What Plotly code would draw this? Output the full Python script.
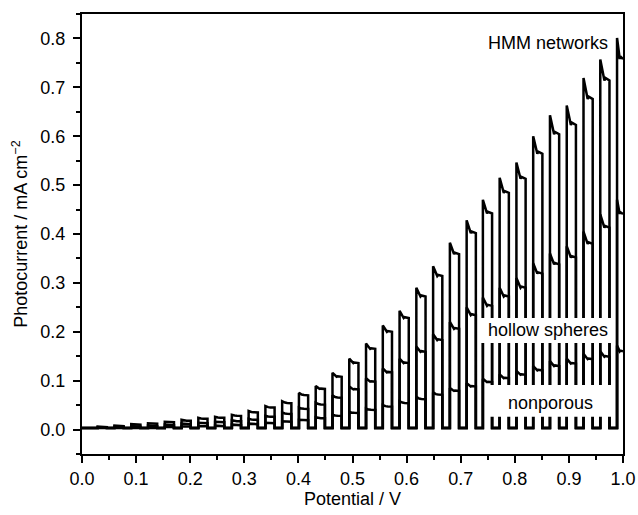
import plotly.graph_objects as go

# ---------------- data ----------------
# light-on / light-off potentials of each chopped pulse (V)
pulse_on = [0.029, 0.060, 0.091, 0.122, 0.153, 0.184, 0.215, 0.246, 0.277, 0.308,
            0.339, 0.370, 0.401, 0.432, 0.463, 0.494, 0.525, 0.556, 0.587, 0.618,
            0.649, 0.680, 0.711, 0.741, 0.772, 0.803, 0.834, 0.865, 0.896, 0.927,
            0.958, 0.989]
pulse_off = [0.046, 0.077, 0.108, 0.139, 0.170, 0.201, 0.232, 0.263, 0.294, 0.325,
             0.356, 0.387, 0.418, 0.449, 0.480, 0.511, 0.542, 0.573, 0.604, 0.635,
             0.666, 0.697, 0.728, 0.758, 0.789, 0.820, 0.851, 0.882, 0.913, 0.944,
             0.975, 1.000]

dark_current = 0.003  # mA cm-2, current with light off

# spike (peak) and steady-state (plateau) photocurrent of each pulse, mA cm-2
hmm_peak = [0.006, 0.008, 0.011, 0.013, 0.016, 0.020, 0.024, 0.026, 0.030, 0.038,
            0.048, 0.058, 0.075, 0.089, 0.116, 0.145, 0.176, 0.213, 0.243, 0.290,
            0.334, 0.382, 0.428, 0.470, 0.515, 0.546, 0.600, 0.643, 0.663, 0.719,
            0.757, 0.801]
hmm_plateau = [0.005, 0.007, 0.010, 0.012, 0.015, 0.018, 0.022, 0.024, 0.028, 0.035,
               0.045, 0.054, 0.070, 0.083, 0.108, 0.136, 0.165, 0.200, 0.228, 0.272,
               0.314, 0.359, 0.402, 0.442, 0.484, 0.513, 0.564, 0.604, 0.623, 0.676,
               0.714, 0.758]

hollow_peak = [0.005, 0.006, 0.007, 0.008, 0.010, 0.012, 0.014, 0.016, 0.019, 0.022,
               0.028, 0.035, 0.045, 0.055, 0.070, 0.088, 0.105, 0.125, 0.145, 0.170,
               0.195, 0.220, 0.250, 0.270, 0.290, 0.310, 0.340, 0.360, 0.375, 0.405,
               0.440, 0.470]
hollow_plateau = [0.004, 0.005, 0.006, 0.007, 0.009, 0.011, 0.013, 0.015, 0.017, 0.020,
                  0.026, 0.032, 0.042, 0.051, 0.065, 0.082, 0.098, 0.117, 0.136, 0.159,
                  0.183, 0.206, 0.234, 0.253, 0.272, 0.290, 0.319, 0.338, 0.352, 0.380,
                  0.413, 0.441]

nonporous_peak = [0.003, 0.003, 0.004, 0.004, 0.005, 0.006, 0.007, 0.008, 0.010, 0.012,
                  0.014, 0.017, 0.020, 0.025, 0.030, 0.036, 0.043, 0.050, 0.058, 0.067,
                  0.076, 0.085, 0.095, 0.104, 0.113, 0.120, 0.130, 0.140, 0.145, 0.155,
                  0.160, 0.172]
nonporous_plateau = [0.003, 0.003, 0.004, 0.004, 0.005, 0.006, 0.007, 0.007, 0.009, 0.011,
                     0.013, 0.016, 0.019, 0.023, 0.028, 0.034, 0.040, 0.047, 0.054, 0.062,
                     0.071, 0.079, 0.088, 0.097, 0.105, 0.112, 0.121, 0.130, 0.135, 0.144,
                     0.149, 0.160]

labels = ["HMM networks", "hollow spheres", "nonporous"]
x_ticks = [0.0, 0.1, 0.2, 0.3, 0.4, 0.5, 0.6, 0.7, 0.8, 0.9, 1.0]
y_ticks = [0.0, 0.1, 0.2, 0.3, 0.4, 0.5, 0.6, 0.7, 0.8]


def chopped_trace(peaks, plateaus):
    xs, ys = [0.0], [dark_current]
    for on, off, pk, pl in zip(pulse_on, pulse_off, peaks, plateaus):
        w = off - on
        xs += [on, on, on + 0.3 * w, on + 0.45 * w, on + 0.55 * w, off]
        ys += [dark_current, pk, pl + 0.3 * (pk - pl), pl, pl + 0.12 * (pk - pl), pl]
        if off < 1.0:
            xs.append(off)
            ys.append(dark_current)
    return xs, ys


fig = go.Figure()
for peaks, plats in [(nonporous_peak, nonporous_plateau),
                     (hollow_peak, hollow_plateau),
                     (hmm_peak, hmm_plateau)]:
    xs, ys = chopped_trace(peaks, plats)
    fig.add_trace(go.Scatter(x=xs, y=ys, mode="lines",
                             line=dict(color="black", width=2.5),
                             showlegend=False, hoverinfo="skip"))

font = dict(family="Liberation Sans, Arial, sans-serif", size=18, color="black")

# white boxes behind the in-plot labels (they hide the lines, as in the reference)
fig.add_shape(type="rect", xref="x", yref="y", x0=0.736, x1=0.984, y0=0.177, y1=0.228,
              fillcolor="white", line=dict(width=0), layer="above")
fig.add_shape(type="rect", xref="x", yref="y", x0=0.752, x1=0.984, y0=0.026, y1=0.091,
              fillcolor="white", line=dict(width=0), layer="above")

fig.add_annotation(x=0.976, y=0.79, xref="x", yref="y", xanchor="right", yanchor="middle",
                   text=labels[0], showarrow=False, font=font)
fig.add_annotation(x=0.862, y=0.203, xref="x", yref="y", xanchor="center", yanchor="middle",
                   text=labels[1], showarrow=False, font=font)
fig.add_annotation(x=0.866, y=0.055, xref="x", yref="y", xanchor="center", yanchor="middle",
                   text=labels[2], showarrow=False, font=font)

axis_common = dict(showline=True, linecolor="black", linewidth=2, mirror=True,
                   ticks="outside", tickwidth=2, ticklen=7, tickcolor="black",
                   showgrid=False, zeroline=False, tickfont=font, automargin=False)

fig.update_xaxes(range=[0.0, 1.0], tickvals=x_ticks, ticktext=[f"{v:.1f}" for v in x_ticks],
                 title=dict(text="Potential / V", font=font, standoff=2),
                 minor=dict(ticks="outside", dtick=0.05, tick0=0, ticklen=4,
                            tickwidth=2, tickcolor="black", showgrid=False),
                 **axis_common)
fig.update_yaxes(range=[-0.05, 0.85], tickvals=y_ticks, ticktext=[f"{v:.1f}" for v in y_ticks],
                 title=dict(text="Photocurrent / mA cm<sup>\u22122</sup>", font=font, standoff=8),
                 minor=dict(ticks="outside", dtick=0.05, tick0=0, ticklen=4,
                            tickwidth=2, tickcolor="black", showgrid=False),
                 ticklabelstandoff=4,
                 **axis_common)

fig.update_layout(width=638, height=515, plot_bgcolor="white", paper_bgcolor="white",
                  margin=dict(l=82, r=15, t=14, b=61), font=font)

fig.write_html("out.html", config={"displayModeBar": False},
               post_script="document.body.style.margin='0';document.body.style.overflow='hidden';")
